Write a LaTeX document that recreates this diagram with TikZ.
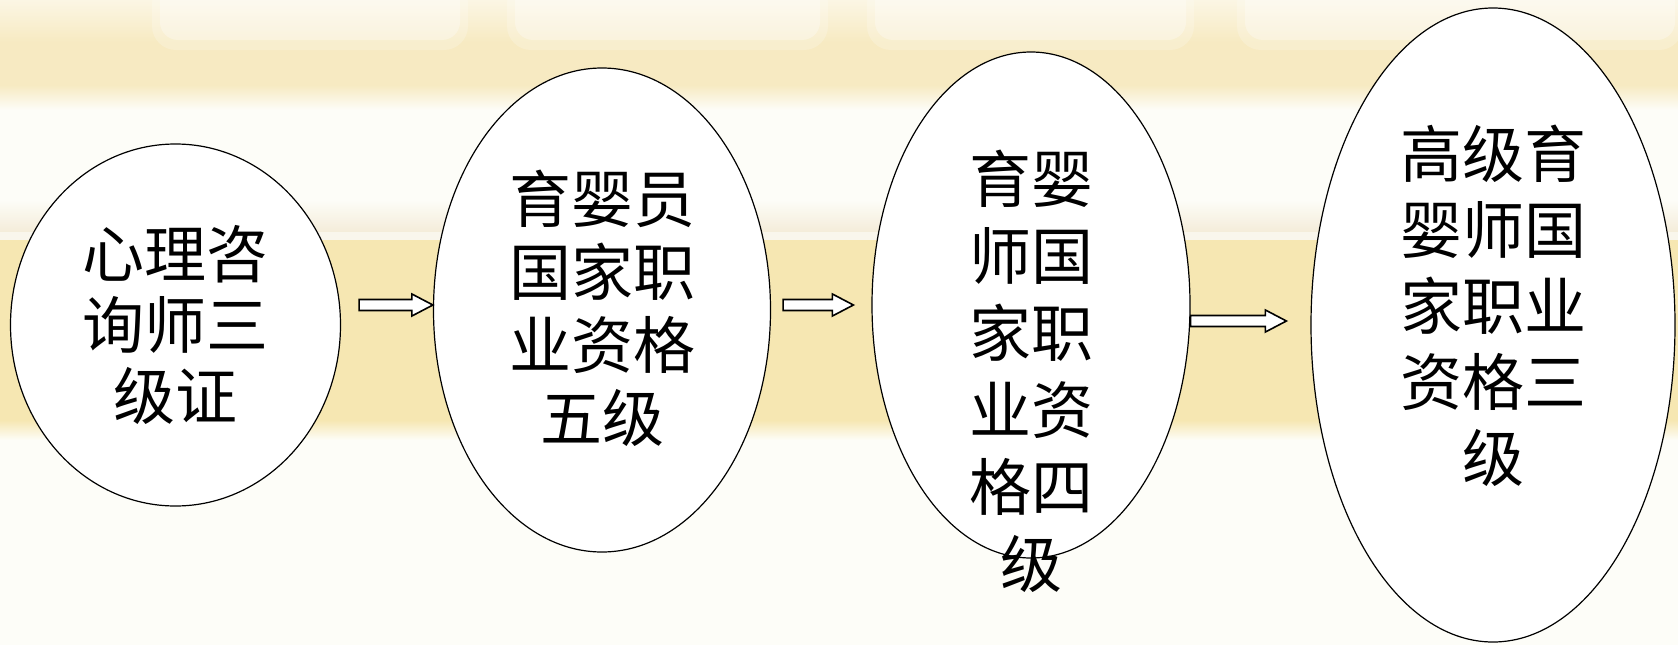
\documentclass[tikz,border=0pt]{standalone}
\usepackage{fontspec}
\newfontfamily\cjk{Noto Sans CJK SC}
\usetikzlibrary{calc,shapes.geometric}

\definecolor{bandyellow}{HTML}{F6E7B2}
\definecolor{topyellow}{HTML}{F7EAC2}
\definecolor{topcream}{HTML}{FBF6E4}
\definecolor{paper}{HTML}{FDFDF8}
\definecolor{creamline}{HTML}{F4ECD9}

\tikzset{
	stage/.style={ellipse, draw=black, line width=1.2pt, fill=white, inner sep=0pt},
	stagetext/.style={font=\cjk\fontsize{62}{#1}\selectfont, align=center, inner sep=0pt},
	arrowbody/.style={draw=black, line width=1.6pt, fill=white, line join=miter},
}

% block arrow between two points on one level
\newcommand{\blockarrow}[2]{%
	\draw[arrowbody] ($#1+(0,-5.5)$) -- ($#2+(-21,-5.5)$) -- ($#2+(-21,-11)$)
		-- #2 -- ($#2+(-21,11)$) -- ($#2+(-21,5.5)$) -- ($#1+(0,5.5)$) -- cycle;}

\begin{document}
\begin{tikzpicture}[x=1pt,y=-1pt]
	\useasboundingbox (0,0) rectangle (1678,645);

	% Background
	\fill[paper] (0,0) rectangle (1678,645);
	\shade[top color=topcream, bottom color=topyellow] (0,0) rectangle (1678,42);
	\fill[topyellow] (0,42) rectangle (1678,85);
	\shade[top color=topyellow, bottom color=paper] (0,85) rectangle (1678,110);
	\foreach \xa/\xb in {160/460, 515/820, 875/1186, 1245/1675} {
		\fill[white, opacity=.2, rounded corners=24] (\xa-8,-20) rectangle (\xb+8,50);
		\fill[white, opacity=.3, rounded corners=18] (\xa,-20) rectangle (\xb,40);
	}
	\shade[top color=paper, bottom color=creamline] (0,200) rectangle (1678,232);
	\fill[white!50!creamline] (0,232) rectangle (1678,240);
	\fill[bandyellow] (0,240) rectangle (1678,420);
	\shade[top color=bandyellow, bottom color=paper] (0,420) rectangle (1678,440);

	% Stages
	\node[stage, minimum width=330, minimum height=362] (e1) at (175.5,325) {};
	\node[stage, minimum width=337, minimum height=484] (e2) at (602,310) {};
	\node[stage, minimum width=318, minimum height=506] (e3) at (1031,305) {};
	\node[stage, minimum width=364, minimum height=634] (e4) at (1493,325) {};

	% Stage texts
	\node[stagetext=71] (t1) at (e1) {心理咨\\询师三\\级证};
	\node[stagetext=73] (t2) at ($(e2)+(0,-2)$) {育婴员\\国家职\\业资格\\五级};
	\node[stagetext=77] (t3) at ($(e3)+(0,66)$) {育婴\\师国\\家职\\业资\\格四\\级};
	\node[stagetext=76] (t4) at ($(e4)+(0,-19)$) {高级育\\婴师国\\家职业\\资格三\\级};

	% Arrow ends
	\coordinate (a1s) at ($(e1.east)+(18,-20)$);
	\coordinate (a1e) at (e2.west |- a1s);
	\coordinate (a2s) at ($(e2.east)+(12,-5)$);
	\coordinate (a2e) at ($(e3.west |- a2s)+(-18,0)$);
	\coordinate (a3s) at ($(e3.east)+(0,16)$);
	\coordinate (a3e) at ($(e4.west |- a3s)+(-24,0)$);

	% Arrows
	\blockarrow{(a1s)}{(a1e)}
	\blockarrow{(a2s)}{(a2e)}
	\blockarrow{(a3s)}{(a3e)}
\end{tikzpicture}
\end{document}
